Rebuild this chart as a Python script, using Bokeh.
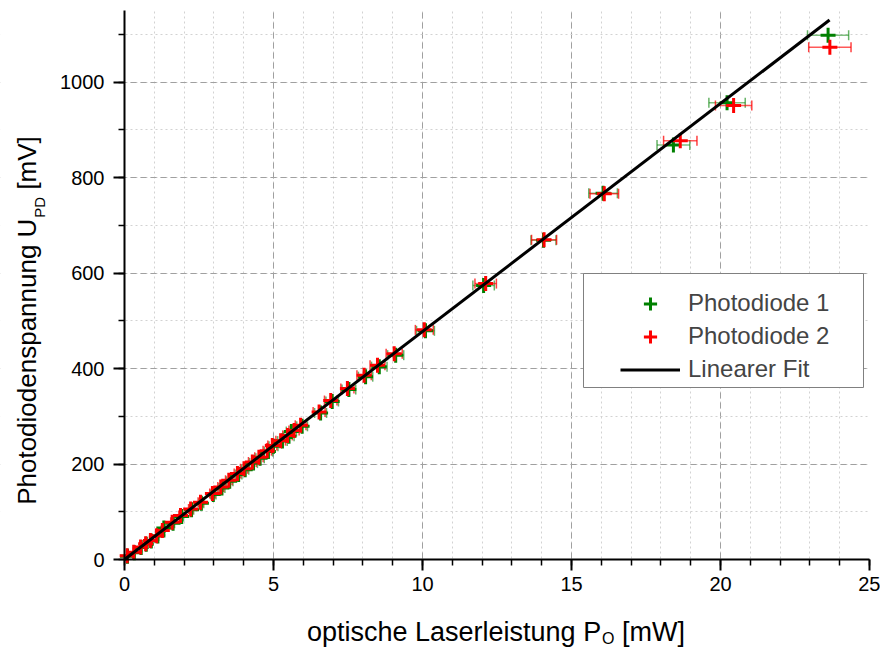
import math
from bokeh.plotting import figure
from bokeh.models import (ColumnDataSource, Range1d, SingleIntervalTicker, Whisker,
                          TeeHead, Legend, LegendItem, Label, BoxAnnotation)
from bokeh.embed import file_html
from bokeh.resources import INLINE

# ---------------- data ----------------
p1_x = [0.10, 0.33, 0.56, 0.73, 0.90, 1.12, 1.32, 1.63, 1.92, 2.25,
        2.58, 2.98, 3.27, 3.53, 3.83, 4.05, 4.33, 4.55, 4.83, 5.00,
        5.30, 5.52, 5.60, 5.96, 6.58, 6.97, 7.53, 8.09, 8.55, 9.10,
        10.10, 12.05, 14.06, 16.06, 18.42, 20.22, 23.61]
p1_y = [7, 14, 25, 32, 39, 49, 66, 76, 90, 104,
        118, 136, 150, 164, 178, 188, 202, 212, 226, 237,
        248, 258, 268, 279, 307, 331, 356, 383, 404, 428,
        479, 574, 669, 767, 868, 957, 1098]
p1_xerr = [0.00, 0.01, 0.02, 0.02, 0.03, 0.03, 0.04, 0.05, 0.06, 0.07,
           0.08, 0.09, 0.10, 0.11, 0.11, 0.12, 0.13, 0.14, 0.14, 0.15,
           0.16, 0.17, 0.17, 0.18, 0.20, 0.21, 0.23, 0.24, 0.26, 0.27,
           0.30, 0.36, 0.42, 0.48, 0.55, 0.61, 0.69]

p2_x = [0.09, 0.31, 0.54, 0.71, 0.87, 1.08, 1.27, 1.60, 1.88, 2.22,
        2.55, 2.95, 3.23, 3.50, 3.79, 4.01, 4.29, 4.51, 4.79, 4.96,
        5.24, 5.47, 5.69, 5.91, 6.53, 6.92, 7.48, 8.04, 8.49, 9.05,
        10.06, 12.12, 14.08, 16.10, 18.65, 20.44, 23.67]
p2_y = [8, 15, 26, 33, 40, 50, 61, 78, 92, 106,
        120, 138, 152, 166, 180, 190, 204, 214, 228, 239,
        249, 260, 270, 281, 309, 333, 358, 386, 407, 431,
        481, 578, 670, 766, 877, 951, 1073]
p2_xerr = [0.00, 0.01, 0.02, 0.02, 0.03, 0.03, 0.04, 0.05, 0.06, 0.07,
           0.08, 0.09, 0.10, 0.11, 0.11, 0.12, 0.13, 0.14, 0.14, 0.15,
           0.16, 0.16, 0.17, 0.18, 0.20, 0.21, 0.22, 0.24, 0.25, 0.27,
           0.30, 0.36, 0.42, 0.48, 0.56, 0.61, 0.71]

fit_x = [0.0, 23.66]
fit_y = [0.0, 1130.0]

series_labels = ["Photodiode 1", "Photodiode 2", "Linearer Fit"]
x_limits = (0, 25)
y_limits = (0, 1150)

# ---------------- layout ----------------
FONT = "Liberation Sans"
W, H = 880, 648
# data area inside the canvas (pixels from left / right / top / bottom)
PL, PR, PT, PB = 124, 11, 10, 89
GREEN, RED = "#008000", "#ff0000"

xs_px = (W - PL - PR) / (x_limits[1] - x_limits[0])
ys_px = (H - PT - PB) / (y_limits[1] - y_limits[0])
x_range = Range1d(x_limits[0] - PL / xs_px, x_limits[1] + PR / xs_px)
y_range = Range1d(y_limits[0] - PB / ys_px, y_limits[1] + PT / ys_px)

p = figure(width=W, height=H, x_range=x_range, y_range=y_range,
           output_backend="svg", toolbar_location=None,
           min_border=0)
p.outline_line_color = None
p.background_fill_color = "white"
p.border_fill_color = "white"

p.xaxis.ticker = SingleIntervalTicker(interval=5, num_minor_ticks=5)
p.yaxis.ticker = SingleIntervalTicker(interval=200, num_minor_ticks=2)
p.xaxis.fixed_location = 0
p.yaxis.fixed_location = 0
p.xaxis.bounds = x_limits
p.yaxis.bounds = y_limits
for ax in (p.xaxis[0], p.yaxis[0]):
    ax.axis_line_width = 2
    ax.axis_line_color = "black"
    ax.major_tick_line_width = 2
    ax.minor_tick_line_width = 1.5
    ax.major_tick_in = 0
    ax.major_tick_out = 11
    ax.minor_tick_in = 0
    ax.minor_tick_out = 6
    ax.major_label_text_font = FONT
    ax.major_label_text_font_size = "20px"
    ax.major_label_text_color = "black"
p.xaxis.major_label_standoff = 6
p.yaxis.major_label_standoff = 9

p.xgrid.bounds = (0.01, 24.99)
p.ygrid.bounds = (0.01, 1150)
for g in (p.xgrid[0], p.ygrid[0]):
    g.grid_line_color = "#a0a0a0"
    g.grid_line_dash = "6 4"
    g.grid_line_width = 1
    g.minor_grid_line_color = "#d2d2d2"
    g.minor_grid_line_dash = "2 3"
    g.minor_grid_line_width = 1

# white bands hiding grid lines outside the data area
for kw in (dict(left=-100, right=100, bottom=-5000, top=y_limits[0]),
           dict(left=-100, right=100, bottom=y_limits[1], top=5000),
           dict(left=-100, right=x_limits[0], bottom=-5000, top=5000),
           dict(left=x_limits[1], right=100, bottom=-5000, top=5000)):
    p.add_layout(BoxAnnotation(fill_color="white", fill_alpha=1.0, line_alpha=0,
                               level="underlay", **kw))

def make_src(xs, ys, es):
    return ColumnDataSource(dict(x=xs, y=ys,
                                 lo=[a - e for a, e in zip(xs, es)],
                                 hi=[a + e for a, e in zip(xs, es)]))

src1 = make_src(p1_x, p1_y, p1_xerr)
src2 = make_src(p2_x, p2_y, p2_xerr)

for src, col, alpha in ((src1, GREEN, 0.5), (src2, RED, 0.65)):
    w = Whisker(source=src, base="y", lower="lo", upper="hi", dimension="width",
                line_color=col, line_alpha=alpha, line_width=1.5, level="underlay",
                upper_head=TeeHead(size=10, line_color=col, line_alpha=alpha + 0.1, line_width=1.5),
                lower_head=TeeHead(size=10, line_color=col, line_alpha=alpha + 0.1, line_width=1.5))
    p.add_layout(w)

r1 = p.scatter("x", "y", source=src1, marker="cross", size=15, line_color=GREEN, line_width=3)
r2 = p.scatter("x", "y", source=src2, marker="cross", size=15, line_color=RED, line_width=3)
rf = p.line(fit_x, fit_y, line_color="black", line_width=3)

# legend frame (screen units, origin at canvas bottom-left)
box = BoxAnnotation(left=583, right=863, top=H - 273, bottom=H - 387,
                    left_units="screen", right_units="screen",
                    top_units="screen", bottom_units="screen",
                    fill_color="white", fill_alpha=1.0,
                    line_color="#808080", line_width=1, line_alpha=1.0)
p.add_layout(box)

legend = Legend(items=[LegendItem(label=series_labels[0], renderers=[r1]),
                       LegendItem(label=series_labels[1], renderers=[r2]),
                       LegendItem(label=series_labels[2], renderers=[rf])],
                location=(620, H - 385.5), padding=0, margin=0, spacing=0,
                glyph_width=60, glyph_height=33, label_height=33, label_standoff=8,
                label_text_font=FONT, label_text_font_size="24px",
                border_line_alpha=0, background_fill_alpha=0)
p.add_layout(legend)

# ---------------- axis titles with subscripts ----------------
AW = {' ': 278, '[': 278, ']': 278, 'O': 778, 'P': 667, 'D': 722, 'U': 722, 'L': 556,
      'V': 667, 'W': 944, 'a': 556, 'c': 500, 'd': 556, 'e': 556, 'g': 556, 'h': 556,
      'i': 222, 'l': 222, 'm': 833, 'n': 556, 'o': 556, 'p': 556, 'r': 333, 's': 500,
      't': 278, 'u': 556}
BASE_SHIFT = 0.35   # rendered baseline lies this many em below the anchor

def tw(s, size):
    return sum(AW.get(c, 556) for c in s) * size / 1000.0

def add_label(x, y, text, size, angle=0.0):
    p.add_layout(Label(x=x, y=y, x_units="screen", y_units="screen", text=text,
                       text_font=FONT, text_font_size=f"{size}px", text_color="black",
                       text_align="left", text_baseline="alphabetic", angle=angle))

# x title (baselines given as canvas pixels from the top)
XF, XS = 27, 16
x_main, x_sub, x_tail = "optische Laserleistung P", "O", "[mW]"
sp = tw(" ", XF)
tot = tw(x_main, XF) + tw(x_sub, XS) + sp + tw(x_tail, XF)
x0 = 495 - tot / 2
base_main, base_sub = 641, 644
add_label(x0, H - base_main + BASE_SHIFT * XF, x_main, XF)
add_label(x0 + tw(x_main, XF) + 1, H - base_sub + BASE_SHIFT * XS, x_sub, XS)
add_label(x0 + tw(x_main, XF) + tw(x_sub, XS) + sp + 1, H - base_main + BASE_SHIFT * XF, x_tail, XF)

# y title (rotated; baselines given as canvas x pixels)
YF, YS = 26, 15
y_main, y_sub, y_tail = "Photodiodenspannung U", "PD", "[mV]"
sp = tw(" ", YF)
tot = tw(y_main, YF) + tw(y_sub, YS) + sp + tw(y_tail, YF)
y0 = (H - 320.5) - tot / 2
bx_main, bx_sub = 36, 44
add_label(bx_main - BASE_SHIFT * YF, y0, y_main, YF, math.pi / 2)
add_label(bx_sub - BASE_SHIFT * YS, y0 + tw(y_main, YF) + 1, y_sub, YS, math.pi / 2)
add_label(bx_main - BASE_SHIFT * YF, y0 + tw(y_main, YF) + tw(y_sub, YS) + sp + 1, y_tail, YF, math.pi / 2)

open("out.html", "w").write(file_html(p, INLINE))
